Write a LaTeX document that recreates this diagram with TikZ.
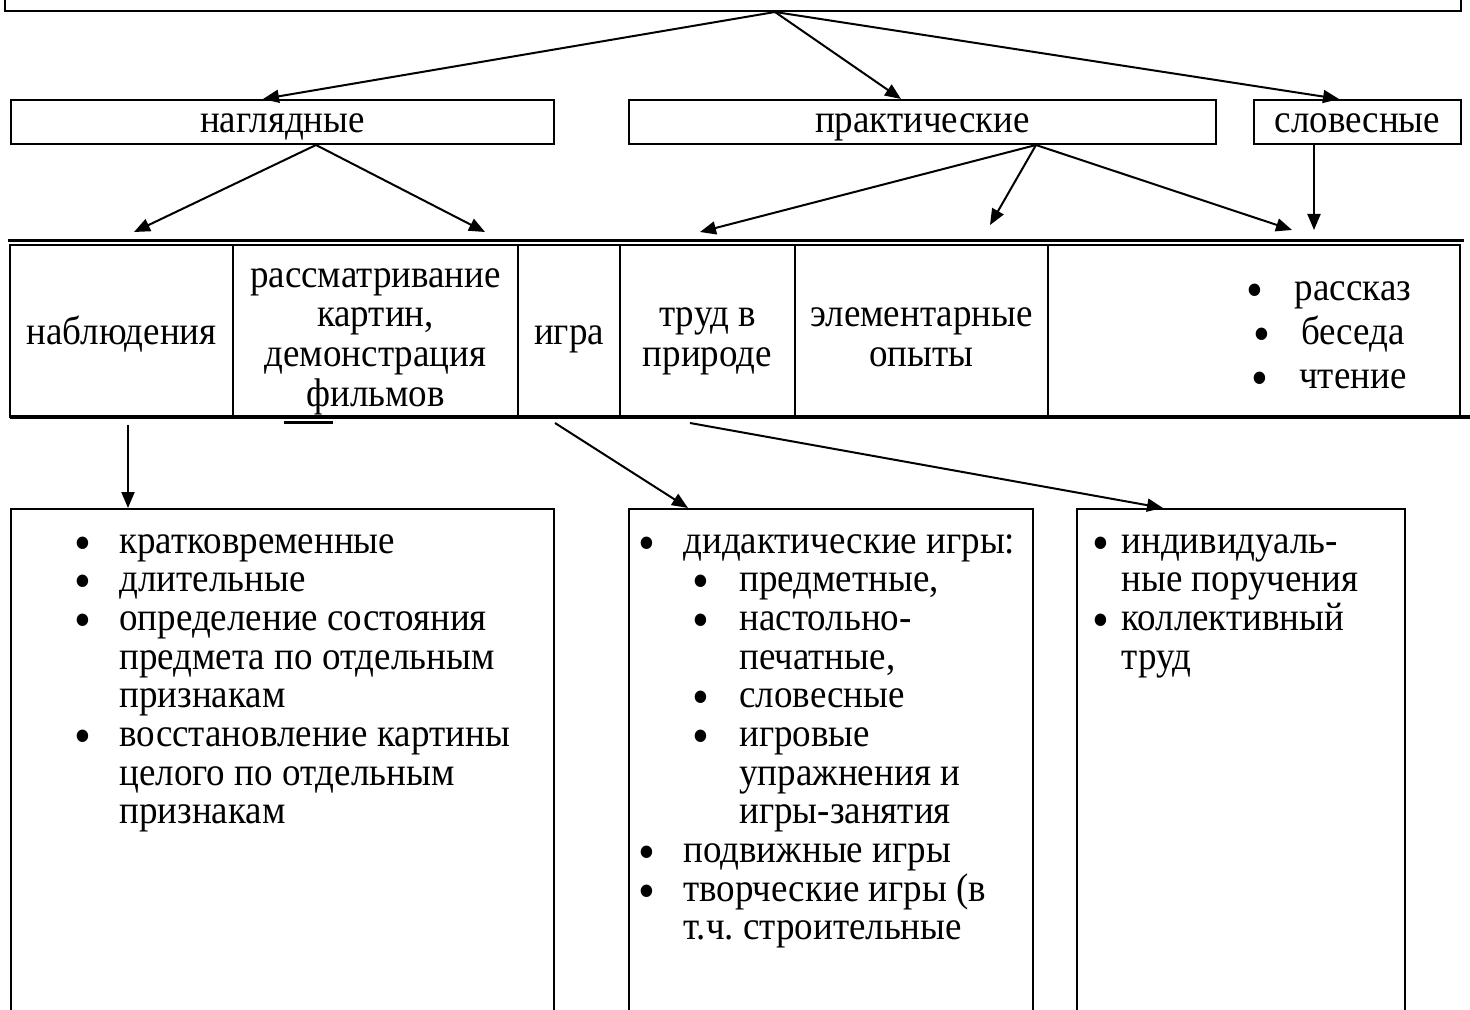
\documentclass[tikz,border=0pt]{standalone}
\usepackage{fontspec}
\setmainfont{Liberation Serif}[FakeStretch=0.925]
\usetikzlibrary{arrows.meta,positioning}

\tikzset{
  box/.style={draw, line width=1pt, inner sep=0pt, minimum height=22pt, text height=16.5pt, text depth=5.5pt},
  cell/.style={draw, line width=0.9pt, inner sep=0pt, outer sep=0pt, minimum height=86pt},
  ctext/.style={anchor=north, align=center, inner sep=0pt, font=\fontsize{20}{19.85}\selectfont},
  lst/.style={anchor=north west, align=left, inner sep=0pt},
  arr/.style={-{Triangle[length=8pt,width=6.5pt]}, line width=1pt},
}
\newcommand\fs{\rule{0pt}{15pt}}
\newcommand\bul{\smash{\raisebox{-3.4pt}{\fontsize{26}{0}\selectfont\textbullet}}}
\newcommand\bl[1][22.5pt]{\fs\makebox[#1][l]{\bul}}

\begin{document}
\lineskiplimit=-30pt
\begin{tikzpicture}[x=1pt,y=-1pt,font=\fontsize{20}{19.33}\selectfont]
\useasboundingbox (0,0) rectangle (735,505);

		%TOP
		\node[box, line width=1.2pt, minimum width=728pt, minimum height=30pt, text height=0pt, text depth=0pt, anchor=south west] (root) at (2,6) {};
		\coordinate (rt) at (387.5,6);

		%SECOND ROW
		\node[box, minimum width=271.5pt, anchor=north west] (nagl) at (5,49.5) {наглядные};
		\node[box, minimum width=293.5pt, anchor=north west] (prakt) at (314,49.5) {практические};
		\node[box, minimum width=103.5pt, anchor=north west] (slov) at (626.5,49.5) {словесные};

		\draw[arr] (rt) -- ([xshift=-9.75pt]nagl.north);
		\draw[arr] (rt) -- ([xshift=-10.75pt]prakt.north);
		\draw[arr] (rt) -- ([xshift=-9.25pt]slov.north);

		%TABLE
		\node[cell, minimum width=111.5pt, anchor=north west] (nabl) at (5,122.5) {};
		\node[cell, minimum width=142.5pt, anchor=north west] (rassm) at (nabl.north east) {};
		\node[cell, minimum width=51pt, anchor=north west] (igra) at (rassm.north east) {};
		\node[cell, minimum width=87.5pt, anchor=north west] (trud) at (igra.north east) {};
		\node[cell, minimum width=126.5pt, anchor=north west] (opyt) at (trud.north east) {};
		\node[cell, minimum width=206pt, anchor=north west] (slovo) at (opyt.north east) {};

		\node[ctext] (tnabl) at ([yshift=-34.45pt]nabl.north) {\fs наблюдения};
		\node[ctext] (trassm) at ([yshift=-5.95pt]rassm.north) {\fs рассматривание\\ картин,\\ демонстрация\\ фильмов};
		\node[ctext] (tigra) at ([yshift=-34.45pt]igra.north) {\fs игра};
		\node[ctext] (ttrud) at ([yshift=-25.45pt]trud.north) {\fs труд в\\ природе};
		\node[ctext] (topyt) at ([yshift=-25.45pt]opyt.north) {\fs элементарные\\ опыты};
		\node[ctext, font=\fontsize{20}{22}\selectfont] (slist) at (664.5,134.95) {\fs\bul\hspace{15.5pt}рассказ\\ \bul\hspace{15.5pt}беседа\\ \bul\hspace{15.5pt}чтение};

		\draw[line width=1.1pt] (4,120.3) -- (732,120.3);
		\draw[line width=1.6pt] (nabl.south west) -- (735,208.5);
		\draw[line width=1.5pt] (142,211) -- (166.5,211);

		%ARROWS TO TABLE
		\coordinate (t1) at (67,116);
		\coordinate (t2) at (242.5,116);
		\coordinate (t3) at (350,116);
		\coordinate (t4) at (495,112.5);
		\coordinate (t5) at (646,115);
		\coordinate (t6) at (657,115);
		\draw[arr] ([xshift=16.75pt]nagl.south) -- (t1);
		\draw[arr] ([xshift=16.75pt]nagl.south) -- (t2);
		\draw[arr] ([xshift=56.75pt]prakt.south) -- (t3);
		\draw[arr] ([xshift=56.75pt]prakt.south) -- (t4);
		\draw[arr] ([xshift=56.75pt]prakt.south) -- (t5);
		\draw[arr] (slov.south -| t6) -- (t6);

		%BOTTOM BOXES
		\node[draw, line width=0.9pt, minimum width=271.5pt, minimum height=280pt, anchor=north west] (b1) at (5,254) {};
		\node[draw, line width=0.9pt, minimum width=202pt, minimum height=280pt, anchor=north west] (b2) at (314,254) {};
		\node[draw, line width=0.9pt, minimum width=164pt, minimum height=280pt, anchor=north west] (b3) at (538,254) {};

		\coordinate (s1) at (64,212.5);
		\coordinate (s2) at (277.5,211.5);
		\coordinate (s3) at (345,211.5);
		\draw[arr] (s1) -- ([xshift=59pt]b1.north west);
		\draw[arr] (s2) -- ([xshift=30pt]b2.north west);
		\draw[arr] (s3) -- ([xshift=43.5pt]b3.north west);

		\node[lst] (l1) at (37,261.45) {\bl кратковременные\\
			\bl длительные\\
			\bl определение состояния\\
			\hspace*{22.5pt}предмета по отдельным\\
			\hspace*{22.5pt}признакам\\
			\bl восстановление картины\\
			\hspace*{22.5pt}целого по отдельным\\
			\hspace*{22.5pt}признакам};
		\node[lst] (l2) at (319,261.45) {\bl дидактические игры:\\
			\hspace*{27pt}\bl[23.5pt]предметные,\\
			\hspace*{27pt}\bl[23.5pt]настольно-\\
			\hspace*{50.5pt}печатные,\\
			\hspace*{27pt}\bl[23.5pt]словесные\\
			\hspace*{27pt}\bl[23.5pt]игровые\\
			\hspace*{50.5pt}упражнения и\\
			\hspace*{50.5pt}игры-занятия\\
			\bl подвижные игры\\
			\bl творческие игры (в\\
			\hspace*{22.5pt}т.ч.\ строительные};
		\node[lst] (l3) at (546,261.45) {\bl[14.5pt]индивидуаль-\\
			\hspace*{14.5pt}ные поручения\\
			\bl[14.5pt]коллективный\\
			\hspace*{14.5pt}труд};

\end{tikzpicture}
\end{document}
